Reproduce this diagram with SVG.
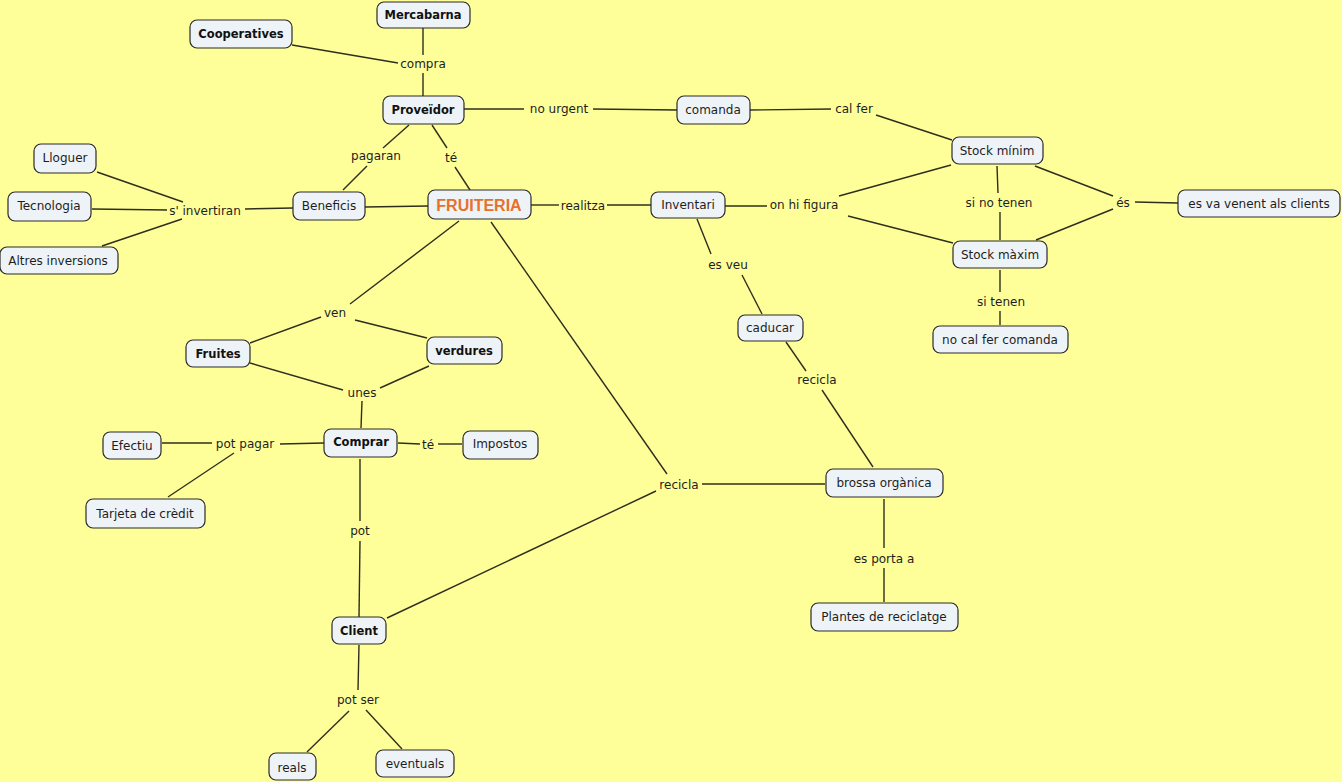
<svg xmlns="http://www.w3.org/2000/svg" width="1342" height="782" viewBox="0 0 1342 782">
<style>
.bg{fill:#FFFF99}
.n rect{fill:#EEF3F7;stroke:#2a2a2a;stroke-width:1.2}
.n text{font-family:"DejaVu Sans",Verdana,sans-serif;font-size:12px;fill:#1e1e1e;text-anchor:middle}
.n text.b{font-weight:bold;font-size:11.5px;fill:#111}
.n text.main{font-family:"Liberation Sans",Arial,sans-serif;font-size:16px;font-weight:bold;fill:#E8702A}
.c line{stroke:#2e2e1e;stroke-width:1.4}
.lbl{font-family:"DejaVu Sans",Verdana,sans-serif;font-size:12px;fill:#1e1e1e;text-anchor:middle}
</style>
<rect class="bg" x="0" y="0" width="1342" height="782"/>
<g id="connectors" class="c">
<line x1="423" y1="28" x2="423" y2="55"/>
<line x1="423" y1="73" x2="423" y2="96"/>
<line x1="292" y1="45" x2="398" y2="63"/>
<line x1="464" y1="109" x2="524" y2="109"/>
<line x1="593" y1="109" x2="677" y2="110"/>
<line x1="750" y1="110" x2="831" y2="109"/>
<line x1="876" y1="115" x2="952" y2="140"/>
<line x1="409" y1="125" x2="383" y2="148"/>
<line x1="367" y1="166" x2="343" y2="190"/>
<line x1="432" y1="125" x2="447" y2="148"/>
<line x1="455" y1="167" x2="470" y2="190"/>
<line x1="293" y1="208" x2="245" y2="209"/>
<line x1="97" y1="172" x2="183" y2="202"/>
<line x1="92" y1="209" x2="167" y2="210"/>
<line x1="102" y1="246" x2="182" y2="219"/>
<line x1="365" y1="207" x2="428" y2="206"/>
<line x1="531" y1="205" x2="559" y2="205"/>
<line x1="607" y1="205" x2="651" y2="205"/>
<line x1="725" y1="206" x2="767" y2="206"/>
<line x1="839" y1="196" x2="951" y2="165"/>
<line x1="848" y1="216" x2="953" y2="243"/>
<line x1="997" y1="166" x2="998" y2="193"/>
<line x1="1000" y1="212" x2="1000" y2="240"/>
<line x1="1035" y1="166" x2="1113" y2="196"/>
<line x1="1113" y1="209" x2="1036" y2="240"/>
<line x1="1135" y1="202" x2="1178" y2="203"/>
<line x1="1000" y1="270" x2="1000" y2="292"/>
<line x1="1000" y1="311" x2="1000" y2="325"/>
<line x1="697" y1="219" x2="711" y2="254"/>
<line x1="742" y1="275" x2="762" y2="314"/>
<line x1="786" y1="342" x2="806" y2="371"/>
<line x1="822" y1="390" x2="873" y2="467"/>
<line x1="459" y1="221" x2="350" y2="304"/>
<line x1="491" y1="222" x2="667" y2="474"/>
<line x1="321" y1="317" x2="250" y2="343"/>
<line x1="355" y1="320" x2="427" y2="338"/>
<line x1="250" y1="363" x2="343" y2="390"/>
<line x1="429" y1="366" x2="380" y2="388"/>
<line x1="362" y1="401" x2="361" y2="428"/>
<line x1="324" y1="443" x2="280" y2="444"/>
<line x1="212" y1="443" x2="162" y2="443"/>
<line x1="234" y1="453" x2="168" y2="497"/>
<line x1="398" y1="443" x2="420" y2="444"/>
<line x1="438" y1="444" x2="462" y2="444"/>
<line x1="360" y1="459" x2="360" y2="521"/>
<line x1="360" y1="541" x2="359" y2="617"/>
<line x1="702" y1="484" x2="825" y2="484"/>
<line x1="656" y1="491" x2="387" y2="618"/>
<line x1="884" y1="499" x2="884" y2="548"/>
<line x1="884" y1="568" x2="884" y2="602"/>
<line x1="359" y1="645" x2="358" y2="690"/>
<line x1="349" y1="711" x2="307" y2="752"/>
<line x1="366" y1="710" x2="402" y2="749"/>
</g>
<g id="labels">
<text class="lbl" x="423" y="68">compra</text>
<text class="lbl" x="559" y="113">no urgent</text>
<text class="lbl" x="854" y="113">cal fer</text>
<text class="lbl" x="376" y="160">pagaran</text>
<text class="lbl" x="451" y="162">té</text>
<text class="lbl" x="205" y="215">s' invertiran</text>
<text class="lbl" x="583" y="210">realitza</text>
<text class="lbl" x="804" y="209">on hi figura</text>
<text class="lbl" x="999" y="207">si no tenen</text>
<text class="lbl" x="1123" y="207">és</text>
<text class="lbl" x="1001" y="306">si tenen</text>
<text class="lbl" x="728" y="269">es veu</text>
<text class="lbl" x="817" y="384">recicla</text>
<text class="lbl" x="335" y="317">ven</text>
<text class="lbl" x="362" y="397">unes</text>
<text class="lbl" x="245" y="448">pot pagar</text>
<text class="lbl" x="428" y="449">té</text>
<text class="lbl" x="360" y="535">pot</text>
<text class="lbl" x="679" y="489">recicla</text>
<text class="lbl" x="884" y="563">es porta a</text>
<text class="lbl" x="358" y="704">pot ser</text>
</g>
<g id="n-mercabarna" class="n"><rect x="377" y="2" width="93" height="26" rx="7"/><text class="b" x="423" y="19">Mercabarna</text></g>
<g id="n-cooperatives" class="n"><rect x="190" y="20" width="102" height="28" rx="7"/><text class="b" x="241" y="38">Cooperatives</text></g>
<g id="n-proveidor" class="n"><rect x="383" y="96" width="81" height="28" rx="7"/><text class="b" x="423" y="114">Proveïdor</text></g>
<g id="n-comanda" class="n"><rect x="677" y="96" width="73" height="28" rx="7"/><text x="713" y="114">comanda</text></g>
<g id="n-stockmin" class="n"><rect x="952" y="137" width="91" height="27" rx="7"/><text x="997" y="155">Stock mínim</text></g>
<g id="n-lloguer" class="n"><rect x="34" y="144" width="62" height="29" rx="7"/><text x="65" y="162">Lloguer</text></g>
<g id="n-tecnologia" class="n"><rect x="8" y="192" width="83" height="29" rx="7"/><text x="49" y="210">Tecnologia</text></g>
<g id="n-altres" class="n"><rect x="0" y="247" width="118" height="27" rx="7"/><text x="58" y="265">Altres inversions</text></g>
<g id="n-beneficis" class="n"><rect x="293" y="192" width="72" height="28" rx="7"/><text x="329" y="210">Beneficis</text></g>
<g id="n-fruiteria" class="n"><rect x="428" y="190" width="103" height="29" rx="7"/><text class="main" x="479" y="211">FRUITERIA</text></g>
<g id="n-inventari" class="n"><rect x="651" y="192" width="74" height="26" rx="7"/><text x="688" y="209">Inventari</text></g>
<g id="n-esva" class="n"><rect x="1178" y="190" width="162" height="27" rx="7"/><text x="1259" y="208">es va venent als clients</text></g>
<g id="n-stockmax" class="n"><rect x="953" y="241" width="94" height="27" rx="7"/><text x="1000" y="259">Stock màxim</text></g>
<g id="n-nocal" class="n"><rect x="933" y="326" width="135" height="27" rx="7"/><text x="1000" y="344">no cal fer comanda</text></g>
<g id="n-caducar" class="n"><rect x="738" y="315" width="65" height="26" rx="7"/><text x="770" y="332">caducar</text></g>
<g id="n-fruites" class="n"><rect x="186" y="340" width="64" height="27" rx="7"/><text class="b" x="218" y="358">Fruites</text></g>
<g id="n-verdures" class="n"><rect x="427" y="337" width="75" height="27" rx="7"/><text class="b" x="464" y="355">verdures</text></g>
<g id="n-comprar" class="n"><rect x="324" y="429" width="73" height="28" rx="7"/><text class="b" x="361" y="446">Comprar</text></g>
<g id="n-impostos" class="n"><rect x="463" y="431" width="75" height="28" rx="7"/><text x="500" y="448">Impostos</text></g>
<g id="n-efectiu" class="n"><rect x="103" y="432" width="58" height="27" rx="7"/><text x="132" y="450">Efectiu</text></g>
<g id="n-tarjeta" class="n"><rect x="86" y="499" width="119" height="29" rx="7"/><text x="145" y="518">Tarjeta de crèdit</text></g>
<g id="n-brossa" class="n"><rect x="826" y="469" width="117" height="28" rx="7"/><text x="884" y="487">brossa orgànica</text></g>
<g id="n-plantes" class="n"><rect x="811" y="603" width="147" height="28" rx="7"/><text x="884" y="621">Plantes de reciclatge</text></g>
<g id="n-client" class="n"><rect x="332" y="617" width="54" height="27" rx="7"/><text class="b" x="359" y="635">Client</text></g>
<g id="n-reals" class="n"><rect x="269" y="753" width="47" height="27" rx="7"/><text x="292" y="772">reals</text></g>
<g id="n-eventuals" class="n"><rect x="376" y="750" width="78" height="27" rx="7"/><text x="415" y="768">eventuals</text></g>
</svg>
